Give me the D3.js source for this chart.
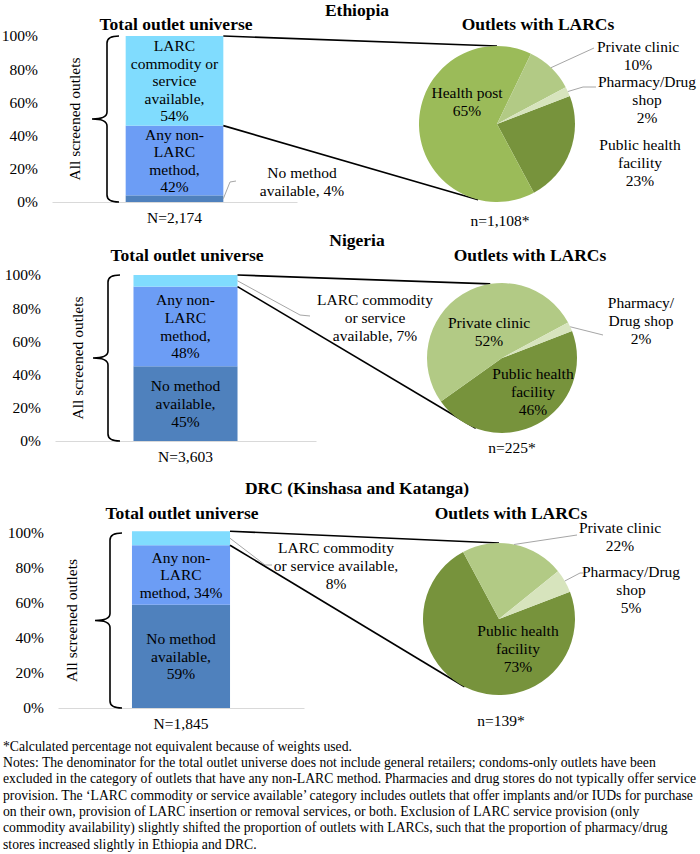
<!DOCTYPE html>
<html>
<head>
<meta charset="utf-8">
<script src="https://cdn.jsdelivr.net/npm/d3@7"></script>
<style>
body { margin: 0; background: #fff; }
</style>
</head>
<body>
<div id="chart"></div>
<script>
const w = 700;
const h = 854;

// data
const countries = ["Ethiopia", "Nigeria", "DRC (Kinshasa and Katanga)"];
const barCategories = ["No method available", "Any non-LARC method", "LARC commodity or service available"];
const ethiopiaBar = [4, 42, 54];
const nigeriaBar = [45, 48, 7];
const drcBar = [59, 34, 8];
const barTotals = ["N=2,174", "N=3,603", "N=1,845"];

const pieCategories = ["Public health facility", "Health post", "Private clinic", "Pharmacy/Drug shop"];
const ethiopiaPie = [23, 65, 10, 2];
const nigeriaPie = [46, 0, 52, 2];
const drcPie = [73, 0, 22, 5];
const pieTotals = ["n=1,108*", "n=225*", "n=139*"];

const yTicks = [0, 20, 40, 60, 80, 100];

const notes = [
	"*Calculated percentage not equivalent because of weights used.",
	"Notes: The denominator for the total outlet universe does not include general retailers; condoms-only outlets have been",
	"excluded in the category of outlets that have any non-LARC method. Pharmacies and drug stores do not typically offer service",
	"provision. The \u2018LARC commodity or service available\u2019 category includes outlets that offer implants and/or IUDs for purchase",
	"on their own, provision of LARC insertion or removal services, or both. Exclusion of LARC service provision (only",
	"commodity availability) slightly shifted the proportion of outlets with LARCs, such that the proportion of pharmacy/drug",
	"stores increased slightly in Ethiopia and DRC."
];

const barColors = ["#4f81bd", "#6c9df5", "#80dcfe"];
const pieColors = ["#77933c", "#9bbb59", "#b2ca85", "#d7e4bd"];
const serif = "Liberation Serif";
const lineH = 17.6;
const startA = 69 * Math.PI / 180;

// layout of each panel ("#" is replaced by the value)
const panels = [
	{
		name: countries[0], bar: ethiopiaBar, pie: ethiopiaPie, total: barTotals[0], n: pieTotals[0],
		titleY: 10, subY: 24, barTitleX: 176, pieTitleX: 538,
		xRange: [52, 297], yRange: [202, 36], braceX: 107, sideX: 75,
		center: [497, 124], r: 78, zoomAngles: [0, 194], nPos: [500, 221],
		barLabels: [
			{ lines: ["No method", "available, #"], x: 302, y: 173, leader: [[230, 182], [236, 181]] },
			{ lines: ["Any non-", "LARC", "method,", "#"] },
			{ lines: ["LARC", "commodity or", "service", "available,", "#"] }
		],
		pieLabels: [
			{ lines: ["Public health", "facility", "#"], x: 640, y: 145 },
			{ lines: ["Health post", "#"], x: 467, y: 93 },
			{ lines: ["Private clinic", "#"], x: 638, y: 47, leader: [[594, 48]] },
			{ lines: ["Pharmacy/Drug", "shop", "#"], x: 647, y: 82, leader: [[583, 87], [596, 87]] }
		]
	},
	{
		name: countries[1], bar: nigeriaBar, pie: nigeriaPie, total: barTotals[1], n: pieTotals[1],
		titleY: 240, subY: 255, barTitleX: 187, pieTitleX: 530,
		xRange: [55, 316], yRange: [441, 275], braceX: 108, sideX: 78,
		center: [502, 358], r: 75, zoomAngles: [-9, 200.5], nPos: [512, 448],
		barLabels: [
			{ lines: ["No method", "available,", "#"] },
			{ lines: ["Any non-", "LARC", "method,", "#"] },
			{ lines: ["LARC commodity", "or service", "available, #"], x: 375, y: 300, leader: [[300, 315], [310, 316]] }
		],
		pieLabels: [
			{ lines: ["Public health", "facility", "#"], x: 533, y: 374 },
			null,
			{ lines: ["Private clinic", "#"], x: 489, y: 323 },
			{ lines: ["Pharmacy/", "Drug shop", "#"], x: 641, y: 303, leader: [[603, 335]] }
		]
	},
	{
		name: countries[2], bar: drcBar, pie: drcPie, total: barTotals[2], n: pieTotals[2],
		titleY: 488, subY: 513, barTitleX: 182, pieTitleX: 511,
		xRange: [58, 304], yRange: [708, 533], braceX: 110, sideX: 72,
		center: [499, 619], r: 76, zoomAngles: [0, 207], nPos: [501, 721],
		barLabels: [
			{ lines: ["No method", "available,", "#"] },
			{ lines: ["Any non-", "LARC", "method, #"] },
			{ lines: ["LARC commodity", "or service available,", "#"], x: 336, y: 548, leader: [[265, 565], [272, 565]] }
		],
		pieLabels: [
			{ lines: ["Public health", "facility", "#"], x: 518, y: 631 },
			null,
			{ lines: ["Private clinic", "#"], x: 620, y: 528, leader: [[577, 535]] },
			{ lines: ["Pharmacy/Drug", "shop", "#"], x: 631, y: 572, leader: [[580, 573], [583, 573]] }
		]
	}
];

let svg = d3.select('#chart')
	.append('svg')
		.attr('width', w)
		.attr('height', h);

panels.forEach(drawPanel);

svg.append("g")
	.selectAll("text")
	.data(notes)
	.join("text")
		.attr("x", 3)
		.attr("y", (d, i) => 746 + i * 16.3)
		.attr("dy", "0.35em")
		.call(font, 13.7)
		.text(d => d);

function font(sel, size, weight) {
	sel.attr("font-family", serif)
		.attr("font-size", size)
		.attr("font-weight", weight || "normal")
		.attr("fill", "#000");
}

function multiLine(g, lines, value, cx, cy) {
	const t = g.append("text").attr("text-anchor", "middle").call(font, 15.5);
	lines.forEach((l, i) => {
		t.append("tspan")
			.attr("x", cx)
			.attr("y", cy + i * lineH)
			.attr("dy", "0.35em")
			.text(l.replace("#", value + "%"));
	});
	return t;
}

function onCircle(c, r, a) {
	return [c[0] + r * Math.sin(a), c[1] - r * Math.cos(a)];
}

function drawPanel(p) {
	const g = svg.append("g");

	g.append("text")
		.attr("x", 357).attr("y", p.titleY).attr("dy", "0.35em")
		.attr("text-anchor", "middle").call(font, 17.5, "bold").text(p.name);
	g.append("text")
		.attr("x", p.barTitleX).attr("y", p.subY).attr("dy", "0.35em")
		.attr("text-anchor", "middle").call(font, 17.5, "bold").text("Total outlet universe");
	g.append("text")
		.attr("x", p.pieTitleX).attr("y", p.subY).attr("dy", "0.35em")
		.attr("text-anchor", "middle").call(font, 17.5, "bold").text("Outlets with LARCs");

	// stacked bar
	const xScale = d3.scaleBand()
		.domain([p.total])
		.range(p.xRange)
		.paddingInner(0.43)
		.paddingOuter(0.43);
	const yScale = d3.scaleLinear()
		.domain([0, 100])
		.range(p.yRange);

	const row = {};
	barCategories.forEach((c, i) => row[c] = p.bar[i]);
	const series = d3.stack().keys(barCategories)([row]);

	const yAxis = g.append("g")
		.attr("transform", "translate(" + p.xRange[0] + ",0)")
		.call(d3.axisLeft(yScale).tickValues(yTicks).tickFormat(d => d + "%").tickSize(0).tickPadding(14));
	yAxis.select(".domain").remove();
	yAxis.selectAll("text").call(font, 15.5);

	const xAxis = g.append("g")
		.attr("transform", "translate(0," + p.yRange[0] + ")")
		.call(d3.axisBottom(xScale).tickSize(0).tickSizeOuter(0).tickPadding(9.5));
	xAxis.select(".domain").attr("stroke", "#d9d9d9").attr("stroke-width", 1.2);
	xAxis.selectAll("text").call(font, 15.5);

	const bx = xScale(p.total);
	const bw = xScale.bandwidth();
	const right = bx + bw;

	g.selectAll("rect.seg")
		.data(series)
		.join("rect")
		.attr("class", "seg")
		.attr("x", bx)
		.attr("width", bw)
		.attr("y", s => yScale(s[0][1]))
		.attr("height", s => yScale(s[0][0]) - yScale(s[0][1]))
		.attr("fill", (s, i) => barColors[i]);

	series.forEach((s, i) => {
		const lab = p.barLabels[i];
		const v = p.bar[i];
		if (lab.x === undefined) {
			const mid = (yScale(s[0][0]) + yScale(s[0][1])) / 2;
			multiLine(g, lab.lines, v, bx + bw / 2, mid - (lab.lines.length - 1) / 2 * lineH);
		} else {
			const start = [right, yScale((s[0][0] + s[0][1]) / 2)];
			g.append("path")
				.attr("d", d3.line()([start].concat(lab.leader)))
				.attr("fill", "none")
				.attr("stroke", "#a6a6a6")
				.attr("stroke-width", 1);
			multiLine(g, lab.lines, v, lab.x, lab.y);
		}
	});

	// brace and side label
	const top = yScale(100), bot = yScale(0), mid = (top + bot) / 2;
	const bX = p.braceX, k = 7;
	g.append("path")
		.attr("d", "M" + (bX + 12) + "," + top +
			"Q" + bX + "," + top + " " + bX + "," + (top + k) +
			"L" + bX + "," + (mid - k) +
			"Q" + bX + "," + mid + " " + (bX - 15) + "," + mid +
			"Q" + bX + "," + mid + " " + bX + "," + (mid + k) +
			"L" + bX + "," + (bot - k) +
			"Q" + bX + "," + bot + " " + (bX + 12) + "," + bot)
		.attr("fill", "none")
		.attr("stroke", "#000")
		.attr("stroke-width", 1.6);
	g.append("text")
		.attr("transform", "translate(" + p.sideX + "," + mid + ") rotate(-90)")
		.attr("text-anchor", "middle")
		.attr("dy", "0.35em")
		.call(font, 15.5)
		.text("All screened outlets");

	// zoom lines from the LARC segment to the pie
	const larc = series[2][0];
	const zTop = onCircle(p.center, p.r, p.zoomAngles[0] * Math.PI / 180);
	const zBot = onCircle(p.center, p.r, p.zoomAngles[1] * Math.PI / 180);
	g.append("path")
		.attr("d", d3.line()([[right, yScale(larc[1])], zTop]))
		.attr("stroke", "#000").attr("stroke-width", 1.6);
	g.append("path")
		.attr("d", d3.line()([[right, yScale(larc[0])], zBot]))
		.attr("stroke", "#000").attr("stroke-width", 1.6);

	// pie
	const pie = d3.pie().sort(null).value(d => d)
		.startAngle(startA).endAngle(startA + 2 * Math.PI);
	const arcs = pie(p.pie);
	const arc = d3.arc().innerRadius(0).outerRadius(p.r);
	const pg = g.append("g").attr("transform", "translate(" + p.center[0] + "," + p.center[1] + ")");
	pg.selectAll("path")
		.data(arcs.filter(d => d.value > 0))
		.join("path")
		.attr("d", arc)
		.attr("fill", d => pieColors[d.index]);

	arcs.forEach((a, i) => {
		const lab = p.pieLabels[i];
		if (!lab || a.value === 0) return;
		if (lab.leader) {
			const start = onCircle(p.center, p.r, (a.startAngle + a.endAngle) / 2);
			g.append("path")
				.attr("d", d3.line()([start].concat(lab.leader)))
				.attr("fill", "none")
				.attr("stroke", "#a6a6a6")
				.attr("stroke-width", 1);
		}
		multiLine(g, lab.lines, a.value, lab.x, lab.y);
	});

	g.append("text")
		.attr("x", p.nPos[0]).attr("y", p.nPos[1]).attr("dy", "0.35em")
		.attr("text-anchor", "middle").call(font, 15.5).text(p.n);
}
</script>
</body>
</html>
